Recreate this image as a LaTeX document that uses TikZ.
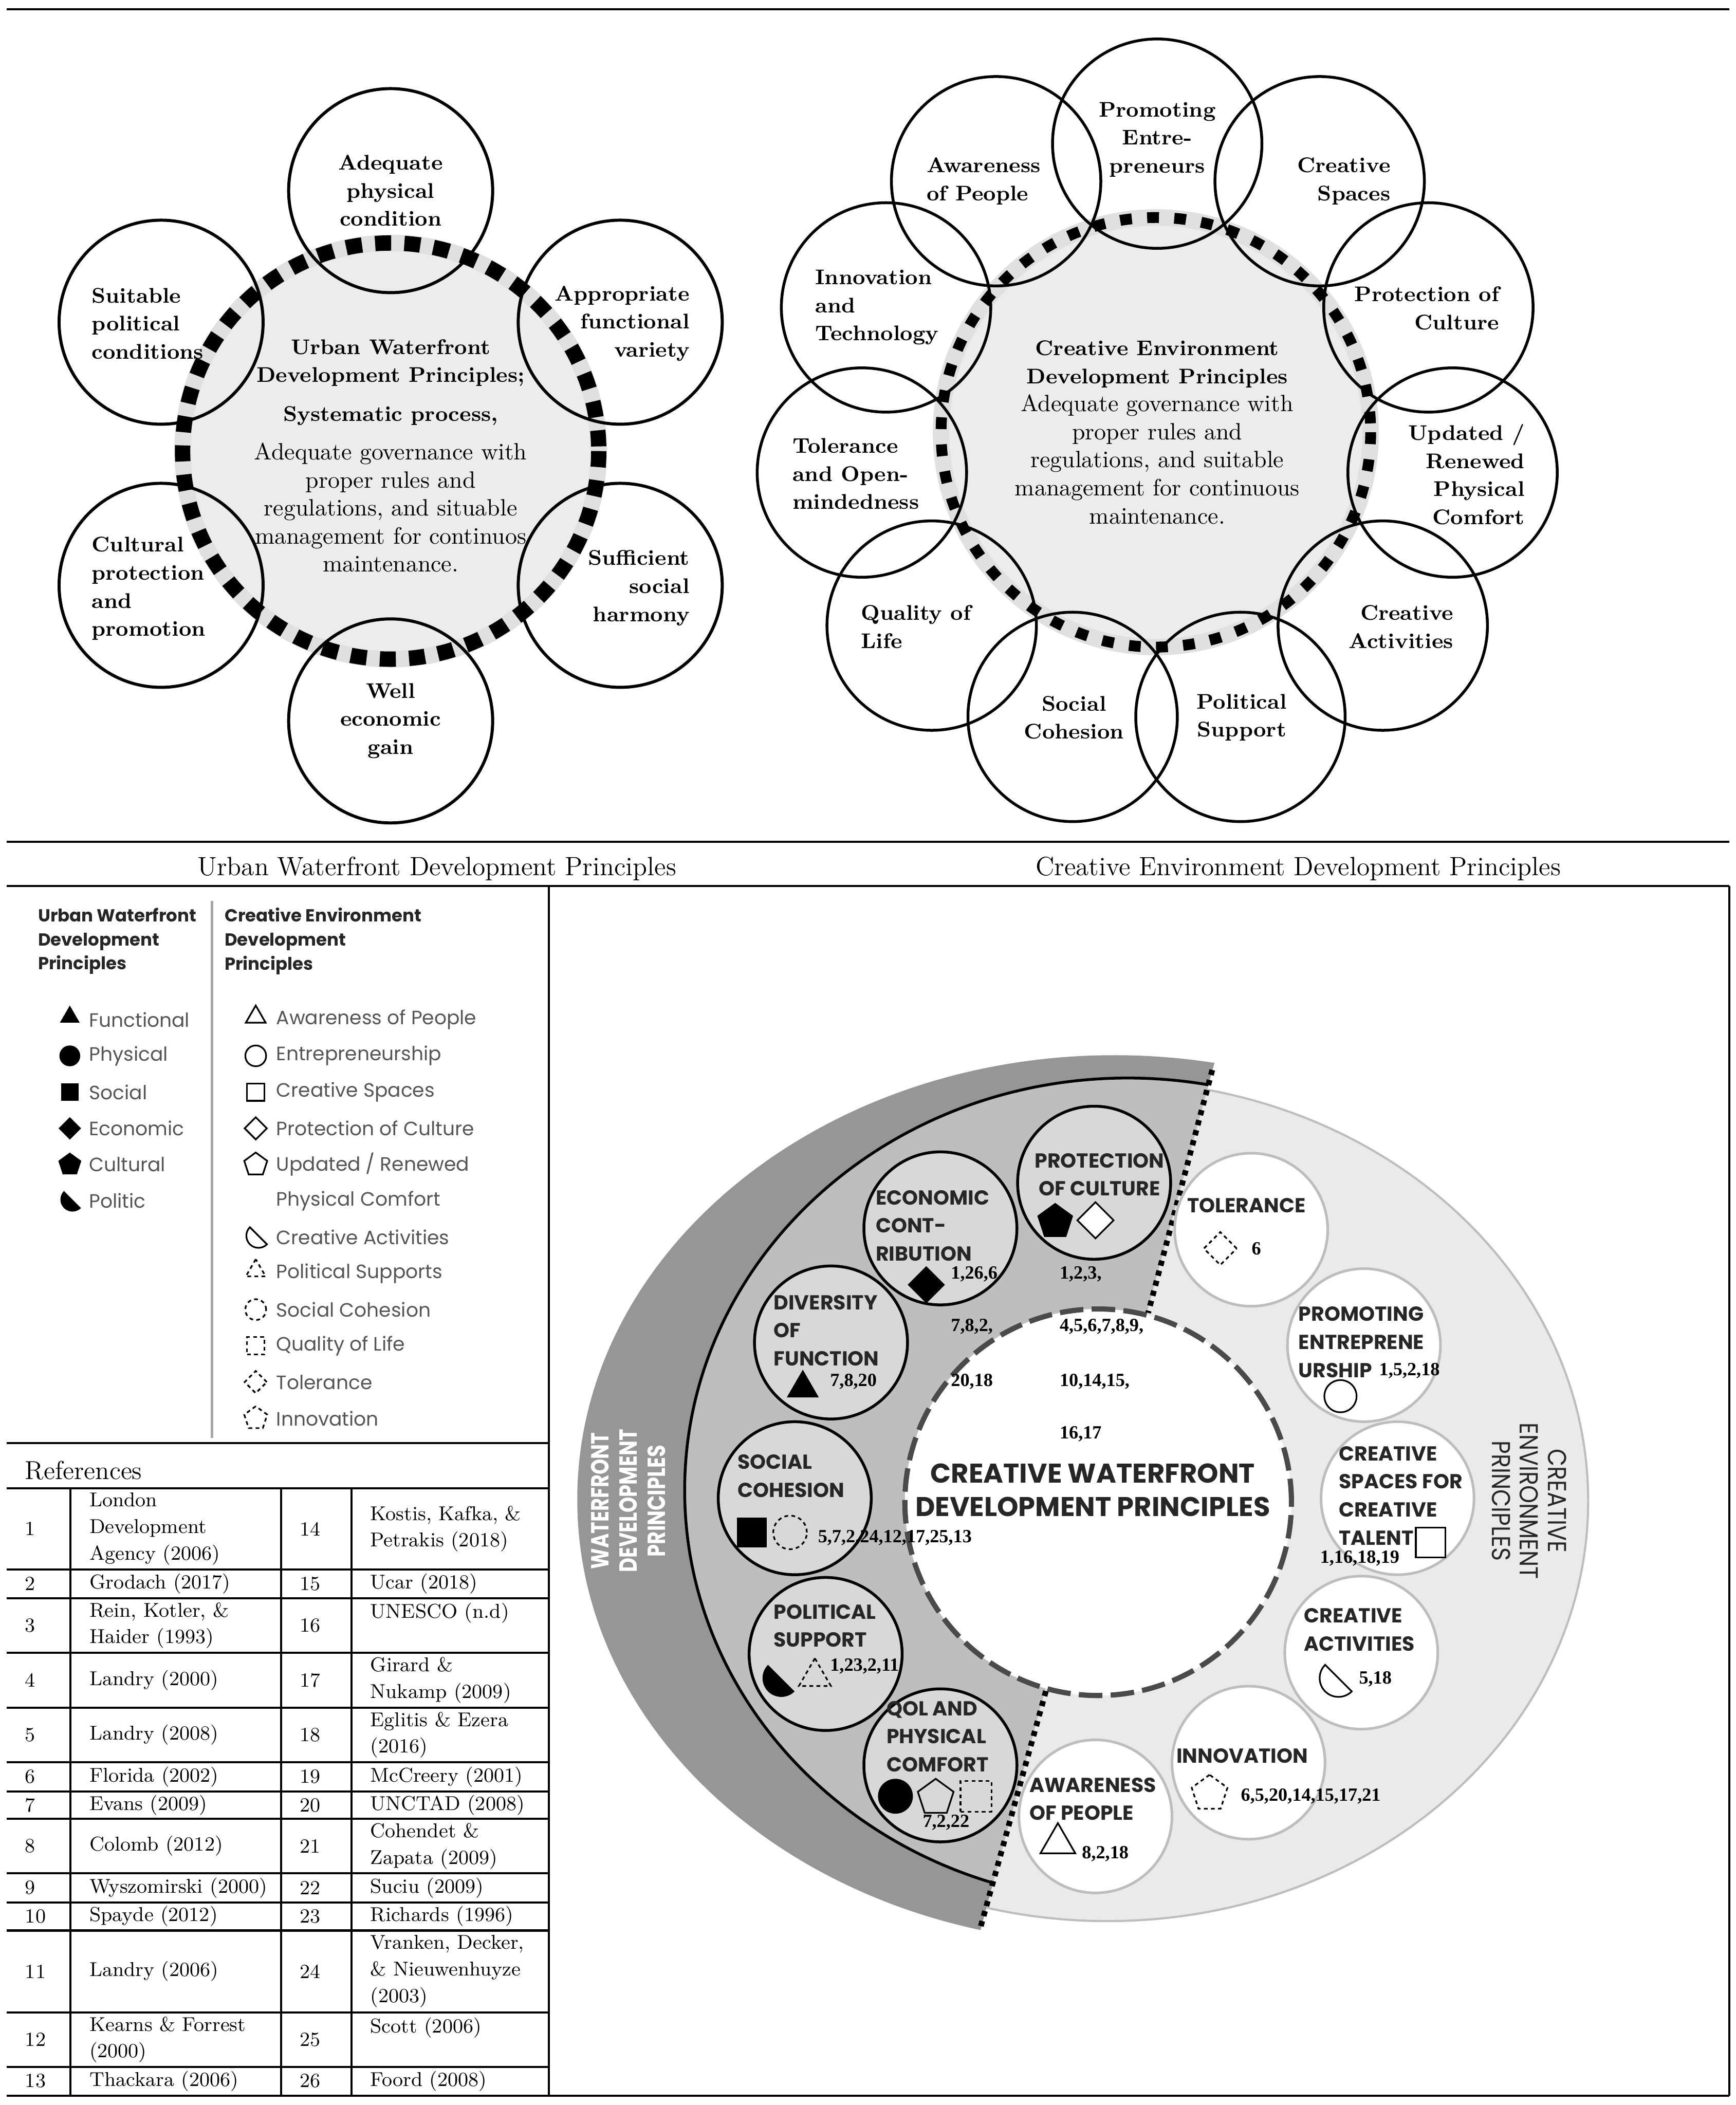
\documentclass[tikz,border=0pt]{standalone}
\usepackage{fontspec}
\usepackage{xcolor}
\usepackage{tikz}
\usetikzlibrary{shapes.geometric}

\newfontfamily\gothic{Poppins}
\newfontfamily\numfont{Liberation Serif}

\definecolor{discgrey}{HTML}{ECECEC}
\definecolor{halogrey}{HTML}{E0E0E0}
\definecolor{darkband}{HTML}{969696}
\definecolor{midband}{HTML}{BEBEBE}
\definecolor{lightband}{HTML}{EAEAEA}
\definecolor{wfgrey}{HTML}{D8D8D8}
\definecolor{cerim}{HTML}{BDBDBD}
\definecolor{legendgrey}{HTML}{555555}
\definecolor{coredash}{HTML}{4A4A4A}

\begin{document}
\begin{tikzpicture}[x=0.02cm, y=-0.02cm,
  rule/.style={line width=0.9pt},
  halo/.style={halogrey, line width=7pt},
  uwring/.style={line width=6.5pt, dash pattern=on 6.8pt off 5.6pt},
  cering/.style={line width=4.6pt, dash pattern=on 5pt off 6.5pt},
  uwpetal/.style={circle, draw, line width=1.3pt, minimum size=3.04cm, inner sep=0pt},
  cepetal/.style={circle, draw, line width=1.2pt, minimum size=3.12cm, inner sep=0pt},
  petaltext/.style={font=\fontsize{9}{11.9}\selectfont\bfseries, inner sep=0pt},
  coretext/.style={font=\fontsize{10}{11.9}\selectfont, inner sep=0pt, align=center},
  caption/.style={font=\fontsize{11.2}{13}\selectfont, inner sep=0pt},
  reftext/.style={font=\fontsize{8.5}{11.3}\selectfont, inner sep=0pt, anchor=west, align=left},
  leghead/.style={font=\gothic\bfseries\fontsize{7.4}{10.2}\selectfont, text=black!85, inner sep=0pt, anchor=west, align=left},
  legtext/.style={font=\gothic\fontsize{8.2}{10}\selectfont, text=legendgrey, inner sep=0pt, anchor=west},
  legdiv/.style={black!35, line width=1pt},
  wfdisc/.style={circle, draw, fill=wfgrey, line width=1.2pt, minimum size=2.28cm, inner sep=0pt},
  cedisc/.style={circle, draw=cerim, fill=white, line width=1.1pt, minimum size=2.28cm, inner sep=0pt},
  disctext/.style={font=\gothic\bfseries\fontsize{8.6}{11.9}\selectfont, text=black!85, inner sep=0pt, align=left},
  refnum/.style={font=\numfont\bfseries\fontsize{7.9}{9}\selectfont, inner sep=0pt, anchor=west},
  sidetext/.style={inner sep=0pt, align=center},
  divider/.style={line width=2.4pt, dash pattern=on 2.2pt off 2.2pt},
  symtri/.style={regular polygon, regular polygon sides=3, inner sep=0pt, minimum size=#1},
  sympent/.style={regular polygon, regular polygon sides=5, inner sep=0pt, minimum size=#1},
  symdiam/.style={diamond, inner sep=0pt, minimum size=#1},
  symsq/.style={rectangle, inner sep=0pt, minimum size=#1},
  symcirc/.style={circle, inner sep=0pt, minimum size=#1},
  solidsym/.style={fill=black},
  opensym/.style={draw, line width=0.7pt},
  dashsym/.style={draw, line width=0.7pt, dash pattern=on 1.6pt off 1.4pt},
  halfdisc/.pic={\path[pic actions] (-135:#1) arc[start angle=-135, end angle=-315, radius=#1] -- cycle;},
]

  \useasboundingbox (0,0) rectangle (1293,1568);
  \fill[white] (0,0) rectangle (1293,1568);
  \def\headfont{\fontsize{9}{11.9}\selectfont\bfseries}

  % --- frame rules ---
  \draw[rule] (5,7) -- (1288,7);
  \draw[rule] (5,627) -- (1288,627);
  \draw[rule] (5,660) -- (1288,660);
  \draw[rule] (409,660) -- (409,1561);
  \draw[rule] (1288,660) -- (1288,1561);
  \draw[rule] (5,1561) -- (1288,1561);
  \draw[rule] (5,1075) -- (409,1075);
  \draw[rule] (5,1108.5) -- (409,1108.5);

  % ============================================================
  % Urban waterfront ring (top left)
  % ============================================================
  \def\uwx{291}
  \def\uwy{336}
  \fill[discgrey] (\uwx,\uwy) circle[radius=158];
  \draw[halo] (\uwx,\uwy) circle[radius=155];

  \node[uwpetal, petaltext, align=center] (uwtop) at (291,142) {Adequate\\physical\\condition};
  \node[uwpetal] (uwul) at (120,240) {};
  \node[uwpetal] (uwur) at (462,240) {};
  \node[uwpetal] (uwll) at (120,436) {};
  \node[uwpetal] (uwlr) at (462,436) {};
  \node[uwpetal, petaltext, align=center] (uwbot) at (291,537) {Well\\economic\\gain};

  \draw[uwring] (\uwx,\uwy) circle[radius=155];

  \node[petaltext, anchor=west, align=left] (uwult) at (68,241) {Suitable\\political\\conditions};
  \node[petaltext, anchor=east, align=right] (uwurt) at (514,241) {Appropriate\\functional\\variety};
  \node[petaltext, anchor=west, align=left] (uwllt) at (68,438.5) {Cultural\\protection\\and\\promotion};
  \node[petaltext, anchor=east, align=right] (uwlrt) at (514,438) {Sufficient\\social\\harmony};

  \node[coretext] (uwcore) at (291,339.5) {{\headfont Urban Waterfront}\\{\headfont Development Principles;}\\[4.5pt]{\headfont Systematic process,}\\[4.5pt]Adequate governance with\\proper rules and\\regulations, and situable\\management for continuos\\maintenance.};

  % ============================================================
  % Creative environment ring (top right)
  % ============================================================
  \def\cex{861}
  \def\cey{322}
  \fill[discgrey] (\cex,\cey) circle[radius=163];
  \draw[halo] (\cex,\cey) circle[radius=160];

  \node[cepetal] (ceprom) at (862,107) {};
  \node[cepetal] (ceaware) at (742,135) {};
  \node[cepetal] (cespace) at (983,135) {};
  \node[cepetal] (ceinno) at (660,229) {};
  \node[cepetal] (ceprot) at (1064,229) {};
  \node[cepetal] (cetol) at (642,352) {};
  \node[cepetal] (ceupd) at (1082,352) {};
  \node[cepetal] (ceqol) at (694,466) {};
  \node[cepetal] (ceact) at (1030,466) {};
  \node[cepetal] (cesoc) at (799,534) {};
  \node[cepetal] (cepol) at (924,534) {};

  \draw[cering] (\cex,\cey) circle[radius=160];

  \node[petaltext, align=center] (cepromt) at (862,104) {Promoting\\Entre-\\preneurs};
  \node[petaltext, anchor=west, align=left] (ceawaret) at (690,135) {Awareness\\of People};
  \node[petaltext, anchor=east, align=right] (cespacet) at (1036,135) {Creative\\Spaces};
  \node[petaltext, anchor=west, align=left] (ceinnot) at (607,229) {Innovation\\and\\Technology};
  \node[petaltext, anchor=east, align=right] (ceprott) at (1117,229.5) {Protection of\\Culture};
  \node[petaltext, anchor=west, align=left] (cetolt) at (590,353) {Tolerance\\and Open-\\mindedness};
  \node[petaltext, anchor=east, align=right] (ceupdt) at (1136,353.5) {Updated /\\Renewed\\Physical\\Comfort};
  \node[petaltext, anchor=west, align=left] (ceqolt) at (641,467) {Quality of\\Life};
  \node[petaltext, anchor=east, align=right] (ceactt) at (1083,467) {Creative\\Activities};
  \node[petaltext, align=center] (cesoct) at (800,534.5) {Social\\Cohesion};
  \node[petaltext, align=center] (cepolt) at (925,534.5) {Political\\Support};

  \node[coretext] (cecore) at (862,322) {{\headfont Creative Environment}\\{\headfont Development Principles}\\Adequate governance with\\proper rules and\\regulations, and suitable\\management for continuous\\maintenance.};

  % --- captions ---
  \node[caption] (capuw) at (325.5,647) {Urban Waterfront Development Principles};
  \node[caption] (capce) at (967,647) {Creative Environment Development Principles};

  % ============================================================
  % Legend
  % ============================================================
  \node[leghead] (lguwh) at (28,701) {Urban Waterfront\\Development\\Principles};
  \node[leghead] (lgceh) at (167,701) {Creative Environment\\Development\\Principles};
  \draw[legdiv] (158,671) -- (158,1071);

  \node[symtri=0.34cm, solidsym] (lgfun) at (52,757.5) {};
  \node[legtext] (lgfunt) at (66,759.5) {Functional};
  \node[symcirc=0.31cm, solidsym] (lgphy) at (52,786.5) {};
  \node[legtext] (lgphyt) at (66,786.5) {Physical};
  \node[symsq=0.26cm, solidsym] (lgsoc) at (52,813.5) {};
  \node[legtext] (lgsoct) at (66,813.5) {Social};
  \node[symdiam=0.34cm, solidsym] (lgeco) at (52,840.5) {};
  \node[legtext] (lgecot) at (66,840.5) {Economic};
  \node[sympent=0.36cm, solidsym] (lgcul) at (52,867.5) {};
  \node[legtext] (lgcult) at (66,867.5) {Cultural};
  \pic[solidsym] at (54,893.5) {halfdisc=9};
  \node[legtext] (lgpolt) at (66,894.5) {Politic};

  \node[symtri=0.34cm, opensym] (lgawa) at (190.5,757.5) {};
  \node[legtext] (lgawat) at (205.5,759.5) {Awareness of People};
  \node[symcirc=0.31cm, opensym] (lgent) at (190.5,786.5) {};
  \node[legtext] (lgentt) at (205.5,786.5) {Entrepreneurship};
  \node[symsq=0.26cm, opensym] (lgspa) at (190.5,813.5) {};
  \node[legtext] (lgspat) at (205.5,813.5) {Creative Spaces};
  \node[symdiam=0.34cm, opensym] (lgpro) at (190.5,840.5) {};
  \node[legtext] (lgprot) at (205.5,840.5) {Protection of Culture};
  \node[sympent=0.36cm, opensym] (lgupd) at (190.5,867.5) {};
  \node[legtext] (lgupdt) at (205.5,867.5) {Updated / Renewed};
  \node[legtext] (lgupdt2) at (205.5,894.5) {Physical Comfort};
  \pic[opensym] at (192.5,920.5) {halfdisc=9};
  \node[legtext] (lgactt) at (205.5,921.5) {Creative Activities};
  \node[symtri=0.34cm, dashsym] (lgpol) at (190.5,946.5) {};
  \node[legtext] (lgpolst) at (205.5,948.5) {Political Supports};
  \node[symcirc=0.31cm, dashsym] (lgcoh) at (190.5,975.5) {};
  \node[legtext] (lgcoht) at (205.5,975.5) {Social Cohesion};
  \node[symsq=0.26cm, dashsym] (lgqol) at (190.5,1002.5) {};
  \node[legtext] (lgqolt) at (205.5,1002.5) {Quality of Life};
  \node[symdiam=0.34cm, dashsym] (lgtol) at (190.5,1029.5) {};
  \node[legtext] (lgtolt) at (205.5,1029.5) {Tolerance};
  \node[sympent=0.36cm, dashsym] (lginn) at (190.5,1056.5) {};
  \node[legtext] (lginnt) at (205.5,1056.5) {Innovation};

  % ============================================================
  % References table
  % ============================================================
  \node[font=\fontsize{11}{13}\selectfont, inner sep=0pt, anchor=west] (refhead) at (18.4,1095.5) {References};
  \foreach \yy in {1169,1190.5,1231,1272,1312.6,1334.5,1354.8,1395.4,1417,1438,1499,1539.6}
    \draw[rule] (5,\yy) -- (409,\yy);
  \foreach \xx in {52.6,209.5,262}
    \draw[rule] (\xx,1108.5) -- (\xx,1561);

  \node[reftext] (r1a) at (18.4,1138.8) {1};
  \node[reftext] (r1b) at (66.3,1138.8) {London\\Development\\Agency (2006)};
  \node[reftext] (r1c) at (222.9,1138.8) {14};
  \node[reftext] (r1d) at (275.5,1138.8) {Kostis, Kafka, \&\\Petrakis (2018)};
  \node[reftext] (r2a) at (18.4,1179.8) {2};
  \node[reftext] (r2b) at (66.3,1179.8) {Grodach (2017)};
  \node[reftext] (r2c) at (222.9,1179.8) {15};
  \node[reftext] (r2d) at (275.5,1179.8) {Ucar (2018)};
  \node[reftext] (r3a) at (18.4,1210.8) {3};
  \node[reftext] (r3b) at (66.3,1210.8) {Rein, Kotler, \&\\Haider (1993)};
  \node[reftext] (r3c) at (222.9,1210.8) {16};
  \node[reftext] (r3d) at (275.5,1201.4) {UNESCO (n.d)};
  \node[reftext] (r4a) at (18.4,1251.5) {4};
  \node[reftext] (r4b) at (66.3,1251.5) {Landry (2000)};
  \node[reftext] (r4c) at (222.9,1251.5) {17};
  \node[reftext] (r4d) at (275.5,1251.5) {Girard \&\\Nukamp (2009)};
  \node[reftext] (r5a) at (18.4,1292.3) {5};
  \node[reftext] (r5b) at (66.3,1292.3) {Landry (2008)};
  \node[reftext] (r5c) at (222.9,1292.3) {18};
  \node[reftext] (r5d) at (275.5,1292.3) {Eglitis \& Ezera\\(2016)};
  \node[reftext] (r6a) at (18.4,1323.5) {6};
  \node[reftext] (r6b) at (66.3,1323.5) {Florida (2002)};
  \node[reftext] (r6c) at (222.9,1323.5) {19};
  \node[reftext] (r6d) at (275.5,1323.5) {McCreery (2001)};
  \node[reftext] (r7a) at (18.4,1344.7) {7};
  \node[reftext] (r7b) at (66.3,1344.7) {Evans (2009)};
  \node[reftext] (r7c) at (222.9,1344.7) {20};
  \node[reftext] (r7d) at (275.5,1344.7) {UNCTAD (2008)};
  \node[reftext] (r8a) at (18.4,1375.1) {8};
  \node[reftext] (r8b) at (66.3,1375.1) {Colomb (2012)};
  \node[reftext] (r8c) at (222.9,1375.1) {21};
  \node[reftext] (r8d) at (275.5,1375.1) {Cohendet \&\\Zapata (2009)};
  \node[reftext] (r9a) at (18.4,1406.2) {9};
  \node[reftext] (r9b) at (66.3,1406.2) {Wyszomirski (2000)};
  \node[reftext] (r9c) at (222.9,1406.2) {22};
  \node[reftext] (r9d) at (275.5,1406.2) {Suciu (2009)};
  \node[reftext] (r10a) at (18.4,1427.5) {10};
  \node[reftext] (r10b) at (66.3,1427.5) {Spayde (2012)};
  \node[reftext] (r10c) at (222.9,1427.5) {23};
  \node[reftext] (r10d) at (275.5,1427.5) {Richards (1996)};
  \node[reftext] (r11a) at (18.4,1468.5) {11};
  \node[reftext] (r11b) at (66.3,1468.5) {Landry (2006)};
  \node[reftext] (r11c) at (222.9,1468.5) {24};
  \node[reftext] (r11d) at (275.5,1468.5) {Vranken, Decker,\\\& Nieuwenhuyze\\(2003)};
  \node[reftext] (r12a) at (18.4,1519.3) {12};
  \node[reftext] (r12b) at (66.3,1519.3) {Kearns \& Forrest\\(2000)};
  \node[reftext] (r12c) at (222.9,1519.3) {25};
  \node[reftext] (r12d) at (275.5,1510.4) {Scott (2006)};
  \node[reftext] (r13a) at (18.4,1550.1) {13};
  \node[reftext] (r13b) at (66.3,1550.1) {Thackara (2006)};
  \node[reftext] (r13c) at (222.9,1550.1) {26};
  \node[reftext] (r13d) at (275.5,1550.1) {Foord (2008)};

  % ============================================================
  % Creative waterfront wheel (bottom right)
  % ============================================================
  \coordinate (divtop) at (903,797);
  \coordinate (divbot) at (730,1437);

  \begin{scope}
    \clip (955,605) -- (679,1628) -- (300,1628) -- (300,605) -- cycle;
    \fill[darkband] (830,1117) ellipse[x radius=400, y radius=331];
    \fill[midband] (840,1110) ellipse[x radius=330, y radius=307];
    \draw[line width=1.2pt] (840,1110) ellipse[x radius=330, y radius=307];
  \end{scope}
  \begin{scope}
    \clip (955,605) -- (679,1628) -- (1290,1628) -- (1290,605) -- cycle;
    \fill[lightband, draw=cerim, line width=0.9pt] (825,1118) ellipse[x radius=358, y radius=313];
  \end{scope}

  \node[circle, fill=white, draw=coredash, line width=2.2pt, dash pattern=on 10pt off 3.5pt,
        minimum size=5.76cm, inner sep=0pt] (core) at (818,1119) {};
  \draw[divider] (divtop) -- (core);
  \draw[divider] (core) -- (divbot);

  \node[font=\gothic\bfseries\fontsize{11.5}{14.2}\selectfont, text=black!85, align=center, inner sep=0pt]
    (coret) at (814,1110) {CREATIVE WATERFRONT\\DEVELOPMENT PRINCIPLES};

  % --- waterfront principles ---
  \node[wfdisc] (wfprot) at (815,881) {};
  \node[wfdisc] (wfecon) at (700.5,915) {};
  \node[wfdisc] (wfdiv) at (619,1000) {};
  \node[wfdisc] (wfsoc) at (592,1116) {};
  \node[wfdisc] (wfpol) at (615,1232) {};
  \node[wfdisc] (wfqol) at (700.5,1315) {};

  \node[disctext, align=center] (wfprott) at (819,875) {PROTECTION\\OF CULTURE};
  \node[sympent=0.56cm, solidsym] (wfprots1) at (786,910) {};
  \node[symdiam=0.55cm, opensym, fill=white] (wfprots2) at (816,909) {};

  \node[disctext, anchor=west] (wfecont) at (652,913) {ECONOMIC\\CONT-\\RIBUTION};
  \node[symdiam=0.56cm, solidsym] (wfecons) at (690,957) {};
  \node[refnum] (wfeconr) at (708,949) {1,26,6};

  \node[disctext, anchor=west] (wfdivt) at (576,991) {DIVERSITY\\OF\\FUNCTION};
  \node[symtri=0.55cm, solidsym] (wfdivs) at (598,1034) {};
  \node[refnum] (wfdivr) at (618,1029) {7,8,20};

  \node[disctext, anchor=west] (wfsoct) at (549,1099.5) {SOCIAL\\COHESION};
  \node[symsq=0.44cm, solidsym] (wfsocs1) at (560,1141.5) {};
  \node[symcirc=0.5cm, dashsym] (wfsocs2) at (588.5,1141.5) {};
  \node[refnum] (wfsocr) at (609,1145.6) {5,7,2,24,12,17,25,13};

  \node[disctext, anchor=west] (wfpolt) at (576,1211) {POLITICAL\\SUPPORT};
  \pic[solidsym] at (582,1250) {halfdisc=14};
  \node[symtri=0.55cm, dashsym] (wfpols) at (607,1249) {};
  \node[refnum] (wfpolr) at (618,1241) {1,23,2,11};

  \node[disctext, anchor=west] (wfqolt) at (660,1293.5) {QOL AND\\PHYSICAL\\COMFORT};
  \node[symcirc=0.52cm, solidsym] (wfqols1) at (667,1338) {};
  \node[sympent=0.56cm, opensym] (wfqols2) at (697,1339) {};
  \node[symsq=0.46cm, dashsym] (wfqols3) at (727,1338) {};
  \node[refnum] (wfqolr) at (687,1357.5) {7,2,22};

  % --- shared references ---
  \node[refnum] (cn1) at (789,949) {1,2,3,};
  \node[refnum] (cn2) at (789,988) {4,5,6,7,8,9,};
  \node[refnum] (cn3) at (789,1029) {10,14,15,};
  \node[refnum] (cn4) at (789,1068) {16,17};
  \node[refnum] (cn5) at (708,988) {7,8,2,};
  \node[refnum] (cn6) at (708,1029) {20,18};

  % --- creative environment principles ---
  \node[cedisc] (btol) at (932,916) {};
  \node[cedisc] (bprom) at (1016,1002) {};
  \node[cedisc] (bspace) at (1041,1116) {};
  \node[cedisc] (bact) at (1014,1231) {};
  \node[cedisc] (binno) at (930,1313) {};
  \node[cedisc] (baware) at (816,1353) {};

  \node[disctext, anchor=west] (btolt) at (884,898) {TOLERANCE};
  \node[symdiam=0.5cm, dashsym] (btols) at (909,930) {};
  \node[refnum] (btolr) at (932,930) {6};

  \node[disctext, anchor=west] (bpromt) at (967,999.7) {PROMOTING\\ENTREPRENE\\URSHIP};
  \node[refnum] (bpromr) at (1027,1021) {1,5,2,18};
  \node[symcirc=0.48cm, opensym] (bproms) at (998.5,1040) {};

  \node[disctext, anchor=west] (bspacet) at (997,1114) {CREATIVE\\SPACES FOR\\CREATIVE\\TALENT};
  \node[symsq=0.44cm, opensym, fill=white] (bspaces) at (1065.6,1149) {};
  \node[refnum] (bspacer) at (983,1160.7) {1,16,18,19};

  \node[disctext, anchor=west] (bactt) at (971,1214) {CREATIVE\\ACTIVITIES};
  \pic[opensym] at (997,1250) {halfdisc=14};
  \node[refnum] (bactr) at (1012,1250.6) {5,18};

  \node[disctext, anchor=west] (binnot) at (876,1308) {INNOVATION};
  \node[sympent=0.56cm, dashsym] (binnos) at (901,1336) {};
  \node[refnum] (binnor) at (924,1338) {6,5,20,14,15,17,21};

  \node[disctext, anchor=west] (bawaret) at (766.5,1340) {AWARENESS\\OF PEOPLE};
  \node[symtri=0.6cm, opensym] (bawares) at (788,1373) {};
  \node[refnum] (bawarer) at (805.6,1381) {8,2,18};

  % --- side labels ---
  \node[sidetext, font=\gothic\bfseries\fontsize{10.5}{11.9}\selectfont, text=white, rotate=90, xscale=0.8]
    (wfside) at (468,1118) {WATERFRONT\\DEVELOPMENT\\PRINCIPLES};
  \node[sidetext, font=\gothic\fontsize{11}{11.9}\selectfont, text=black!85, rotate=-90, xscale=0.88]
    (ceside) at (1139,1118) {CREATIVE\\ENVIRONMENT\\PRINCIPLES};

\end{tikzpicture}
\end{document}
